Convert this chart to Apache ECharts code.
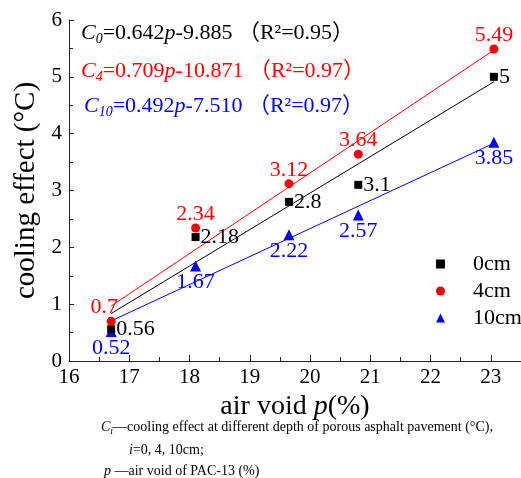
<!DOCTYPE html>
<html>
<head>
<meta charset="utf-8">
<script src="https://cdn.jsdelivr.net/npm/echarts@6/dist/echarts.min.js"></script>
<style>
  html, body { margin: 0; padding: 0; background: #fff; }
  #chart { width: 521px; height: 478px; }
</style>
</head>
<body>
<div id="chart"></div>
<script>
// air void of PAC-13 (%)
const airVoid = [16.7, 18.1, 19.65, 20.8, 23.05];
// cooling effect at depth 0, 4, 10 cm
const cool0 = [0.56, 2.18, 2.8, 3.1, 5];
const cool4 = [0.7, 2.34, 3.12, 3.64, 5.49];
const cool10 = [0.52, 1.67, 2.22, 2.57, 3.85];
// fitted lines, read at both ends of the data range
const fitX = [16.7, 23.05];
const fit0 = [0.836, 4.913];
const fit4 = [0.969, 5.471];
const fit10 = [0.706, 3.831];
const depthNames = ['0cm', '4cm', '10cm'];

const serif = '"Liberation Serif", "Noto Sans CJK SC", serif';
const black = '#000000', red = '#ff0000', blue = '#0000ff';

function pairs(xs, ys) {
  return xs.map((x, i) => [x, ys[i]]);
}

function eqRich(color) {
  return {
    i: {fontFamily: serif, fontSize: 22, fontStyle: 'italic', fontWeight: 'normal', color: color, lineHeight: 26},
    s: {fontFamily: serif, fontSize: 14, fontStyle: 'italic', fontWeight: 'normal', color: color, lineHeight: 12, verticalAlign: 'bottom'},
    n: {fontFamily: serif, fontSize: 22, fontWeight: 'normal', color: color, lineHeight: 26}
  };
}
function capRich() {
  return {
    i: {fontFamily: serif, fontSize: 14, fontStyle: 'italic', fontWeight: 'normal', color: '#000', lineHeight: 18},
    s: {fontFamily: serif, fontSize: 10, fontStyle: 'italic', fontWeight: 'normal', color: '#000', lineHeight: 8, verticalAlign: 'bottom'},
    n: {fontFamily: serif, fontSize: 14, fontWeight: 'normal', color: '#000', lineHeight: 18}
  };
}

const chart = echarts.init(document.getElementById('chart'));

const labelFont = {fontFamily: serif, fontSize: 22};

const option = {
  animation: false,
  backgroundColor: '#fff',
  title: [
    {left: 81, top: 20, padding: 0, text: '{i|C}{s|0}{n|=0.642}{i|p}{n|-9.885 （R²=0.95）}', textStyle: {fontWeight: 'normal', rich: eqRich(black)}},
    {left: 81, top: 58, padding: 0, text: '{i|C}{s|4}{n|=0.709}{i|p}{n|-10.871 （R²=0.97）}', textStyle: {fontWeight: 'normal', rich: eqRich(red)}},
    {left: 84, top: 93, padding: 0, text: '{i|C}{s|10}{n|=0.492}{i|p}{n|-7.510 （R²=0.97）}', textStyle: {fontWeight: 'normal', rich: eqRich(blue)}},
    {left: 101, top: 418, padding: 0, text: '{i|C}{s|i}{n|—cooling effect at different depth of porous asphalt pavement (°C),}', textStyle: {fontWeight: 'normal', rich: capRich()}},
    {left: 129, top: 441, padding: 0, text: '{i|i}{n|=0, 4, 10cm;}', textStyle: {fontWeight: 'normal', rich: capRich()}},
    {left: 104, top: 462, padding: 0, text: '{i|p}{n| —air void of PAC-13 (%)}', textStyle: {fontWeight: 'normal', rich: capRich()}}
  ],
  legend: {
    orient: 'vertical',
    left: 431,
    top: 248,
    itemWidth: 9,
    itemHeight: 9,
    itemGap: 5,
    data: [
      {name: depthNames[0], icon: 'rect', itemStyle: {opacity: 1}},
      {name: depthNames[1], icon: 'circle', itemStyle: {opacity: 1}},
      {name: depthNames[2], icon: 'triangle', itemStyle: {opacity: 1}}
    ],
    textStyle: {fontFamily: serif, fontSize: 22, color: '#000', padding: [0, 0, 0, 23]}
  },
  grid: {left: 69, right: -8.5, top: 20, bottom: 117},
  xAxis: {
    type: 'value',
    min: 16,
    max: 23.5,
    interval: 1,
    name: 'air void {i|p}(%)',
    nameLocation: 'middle',
    nameGap: 25,
    nameTextStyle: {
      fontFamily: serif, fontSize: 28, color: '#000',
      rich: {i: {fontFamily: serif, fontSize: 28, fontStyle: 'italic', color: '#000'}}
    },
    axisLine: {onZero: false, lineStyle: {color: '#222', width: 1}},
    axisTick: {inside: true, length: 6, lineStyle: {color: '#222'}},
    minorTick: {show: true, splitNumber: 2, length: 4, lineStyle: {color: '#222'}},
    axisLabel: {fontFamily: serif, fontSize: 21, color: '#000', margin: 6, showMaxLabel: false},
    splitLine: {show: false}
  },
  yAxis: {
    type: 'value',
    min: 0,
    max: 6,
    interval: 1,
    name: 'cooling effect (°C)',
    nameLocation: 'middle',
    nameGap: 20,
    nameTextStyle: {fontFamily: serif, fontSize: 29, color: '#000'},
    axisLine: {show: true, onZero: false, lineStyle: {color: '#222', width: 1}},
    axisTick: {inside: true, length: 5, lineStyle: {color: '#222'}},
    minorTick: {show: true, splitNumber: 2, length: 4, lineStyle: {color: '#222'}},
    axisLabel: {fontFamily: serif, fontSize: 21, color: '#000', margin: 7},
    splitLine: {show: false}
  },
  series: [
    {type: 'line', data: pairs(fitX, fit0), symbol: 'none', lineStyle: {color: black, width: 1}, z: 1, silent: true},
    {type: 'line', data: pairs(fitX, fit4), symbol: 'none', lineStyle: {color: red, width: 1}, z: 1, silent: true},
    {type: 'line', data: pairs(fitX, fit10), symbol: 'none', lineStyle: {color: blue, width: 1}, z: 1, silent: true},
    {
      name: depthNames[0], type: 'scatter', symbol: 'rect', symbolSize: 8, z: 3,
      itemStyle: {color: black, opacity: 1},
      data: pairs(airVoid, cool0),
      label: Object.assign({show: true, position: 'right', distance: 1, color: black,
        formatter: p => String(p.value[1])}, labelFont)
    },
    {
      name: depthNames[1], type: 'scatter', symbol: 'circle', symbolSize: 9, z: 4,
      itemStyle: {color: red, opacity: 1},
      data: pairs(airVoid, cool4).map((d, i) => i === 0 ? {value: d, label: {offset: [-7, 0]}} : d),
      label: Object.assign({show: true, position: 'top', distance: -2, color: red,
        formatter: p => String(p.value[1])}, labelFont)
    },
    {
      name: depthNames[2], type: 'scatter', symbol: 'triangle', symbolSize: 11, z: 2,
      itemStyle: {color: blue, opacity: 1},
      data: pairs(airVoid, cool10),
      label: Object.assign({show: true, position: 'bottom', distance: 0, color: blue,
        formatter: p => String(p.value[1])}, labelFont)
    }
  ]
};

chart.setOption(option);
</script>
</body>
</html>
